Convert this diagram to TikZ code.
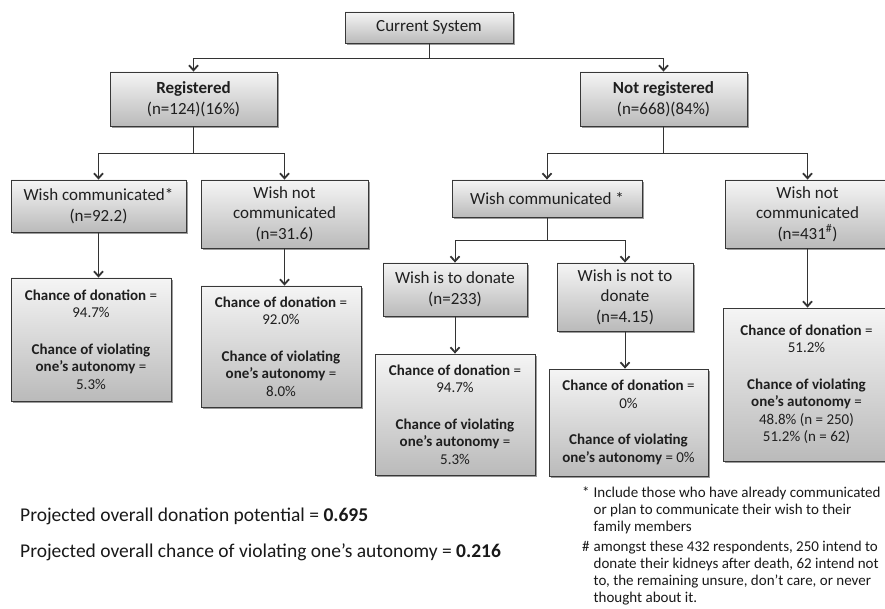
\documentclass[tikz,border=0pt]{standalone}
\usepackage{fontspec}
\setmainfont{Carlito}
\usetikzlibrary{arrows.meta,shadows}
\begin{document}
\begin{tikzpicture}[x=1pt,y=-1pt,
  tbox/.style={draw=black!78, line width=0.8pt, top color=white!96!black, bottom color=black!27,
    drop shadow={shadow xshift=1.8pt, shadow yshift=-1.8pt, opacity=0.55, fill=black!70},
    align=center, inner sep=0pt, text=black!88, font=\fontsize{17}{20.5}\selectfont},
  rbox/.style={tbox, font=\fontsize{15}{17.5}\selectfont},
  conn/.style={draw=black!80, line width=0.8pt},
  arr/.style={conn, -{Straight Barb[length=5pt,width=9pt,line width=1.8pt]}},
  plain/.style={inner sep=0pt, text=black!90},
]
\useasboundingbox[fill=white] (0,0) rectangle (885,609);

% level 0-1
\node[tbox, minimum width=168pt, minimum height=31pt] (cs) at (429,27.5) {Current System};
\node[tbox, minimum width=167pt, minimum height=54pt] (reg) at (193.5,99) {\textbf{Registered}\\(n=124)(16\%)};
\node[tbox, minimum width=167pt, minimum height=54pt] (nreg) at (663.5,99) {\textbf{Not registered}\\(n=668)(84\%)};

% level 2
\node[tbox, minimum width=175pt, minimum height=52pt] (wc1) at (98.5,206) {Wish communicated*\\(n=92.2)};
\node[tbox, minimum width=167pt, minimum height=68pt] (wnc1) at (284.5,214) {Wish not\\communicated\\(n=31.6)};
\node[tbox, minimum width=190pt, minimum height=37pt] (wc2) at (547,198.5) {Wish communicated *};
\node[tbox, minimum width=165pt, minimum height=68pt] (wnc2) at (807.5,214) {Wish not\\communicated\\(n=431\textsuperscript{\#})};

% level 3
\node[tbox, minimum width=144pt, minimum height=53pt] (wd) at (455,289.5) {Wish is to donate\\(n=233)};
\node[tbox, minimum width=136pt, minimum height=68pt] (wnd) at (625,297) {Wish is not to\\donate\\(n=4.15)};

% result boxes
\node[rbox, minimum width=160pt, minimum height=123pt] (b1) at (91,339.5)
  {\textbf{Chance of donation} =\\94.7\%\\[19pt]\textbf{Chance of violating}\\\textbf{one’s autonomy} =\\5.3\%};
\node[rbox, minimum width=160pt, minimum height=121pt] (b2) at (281,346.5)
  {\textbf{Chance of donation} =\\92.0\%\\[19pt]\textbf{Chance of violating}\\\textbf{one’s autonomy} =\\8.0\%};
\node[rbox, minimum width=160pt, minimum height=121pt] (b3) at (455,414.5)
  {\textbf{Chance of donation} =\\94.7\%\\[19pt]\textbf{Chance of violating}\\\textbf{one’s autonomy} =\\5.3\%};
\node[rbox, minimum width=159pt, minimum height=107pt] (b4) at (628.5,422.5)
  {\textbf{Chance of donation} =\\0\%\\[19pt]\textbf{Chance of violating}\\\textbf{one’s autonomy} = 0\%};
\node[rbox, minimum width=167pt, minimum height=153pt] (b5) at (806.5,384.5)
  {\textbf{Chance of donation} =\\51.2\%\\[19pt]\textbf{Chance of violating}\\\textbf{one’s autonomy} =\\48.8\% (n = 250)\\51.2\% (n = 62)};

% junctions
\coordinate (j1) at (429,58);
\coordinate (j2) at (193.5,153);
\coordinate (j3) at (663.5,153);
\coordinate (j4) at (547,240);

% connectors
\draw[conn] (cs.south) -- (j1);
\draw[arr] (j1) -| (reg.north);
\draw[arr] (j1) -| (nreg.north);
\draw[conn] (reg.south) -- (j2);
\draw[arr] (j2) -| (wc1.north);
\draw[arr] (j2) -| (wnc1.north);
\draw[conn] (nreg.south) -- (j3);
\draw[arr] (j3) -| (wc2.north);
\draw[arr] (j3) -| (wnc2.north);
\draw[conn] (wc2.south) -- (j4);
\draw[arr] (j4) -| (wd.north);
\draw[arr] (j4) -| (wnd.north);
\draw[arr] (wc1.south) -- (wc1.south |- b1.north);
\draw[arr] (wnc1.south) -- (wnc1.south |- b2.north);
\draw[arr] (wd.south) -- (wd.south |- b3.north);
\draw[arr] (wnd.south) -- (wnd.south |- b4.north);
\draw[arr] (wnc2.south) -- (wnc2.south |- b5.north);

% summary texts
\node[plain, anchor=west, font=\fontsize{19.5}{22}\selectfont] (p1) at (20,516)
  {Projected overall donation potential = \textbf{0.695}};
\node[plain, anchor=west, font=\fontsize{19.5}{22}\selectfont] (p2) at (20,552)
  {Projected overall chance of violating one’s autonomy = \textbf{0.216}};

% footnotes
\node[plain, anchor=north west, align=left, font=\fontsize{15}{17}\selectfont] (fn) at (582,485)
  {\begin{tabular}{@{}r@{\hspace{4pt}}l@{}}
   * & Include those who have already communicated\\
     & or plan to communicate their wish to their\\
     & family members\\[3pt]
   \# & amongst these 432 respondents, 250 intend to\\
     & donate their kidneys after death, 62 intend not\\
     & to, the remaining unsure, don’t care, or never\\
     & thought about it.
   \end{tabular}};
\end{tikzpicture}
\end{document}
